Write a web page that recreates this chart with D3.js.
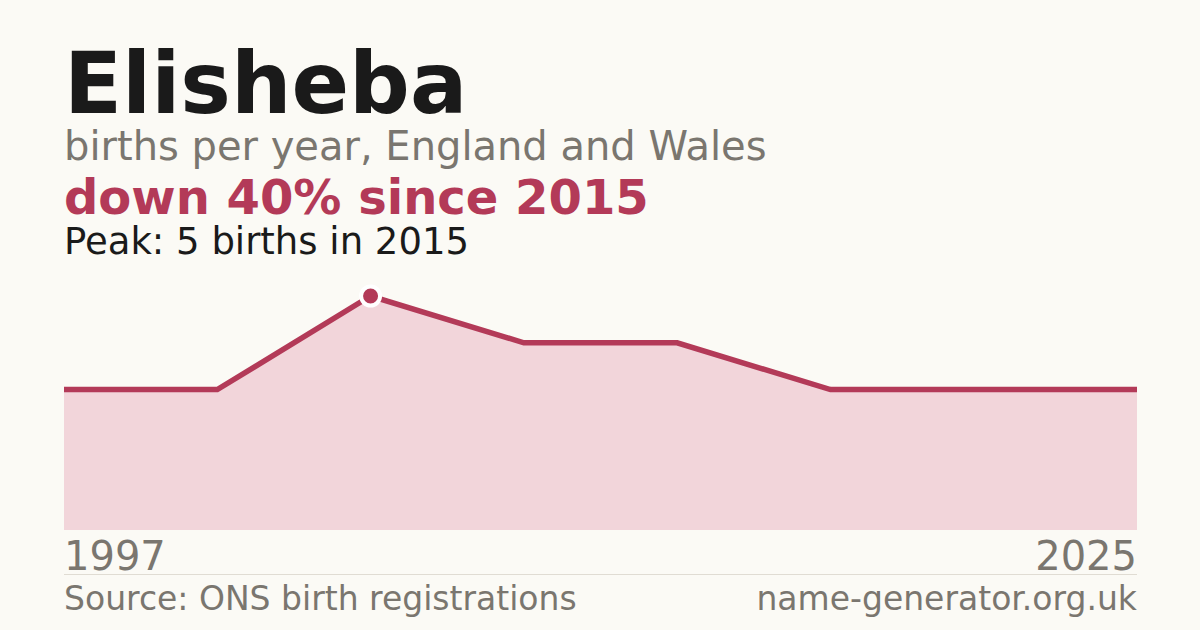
<!DOCTYPE html>
<html>
<head>
<meta charset="utf-8">
<script src="https://cdn.jsdelivr.net/npm/d3@7"></script>
<style>
  html, body { margin: 0; padding: 0; background: #fbfaf5; }
  svg { display: block; font-family: "DejaVu Sans", sans-serif; }
</style>
</head>
<body>
<div id="chart"></div>
<script>
// Data
const YEARS = ['1997', '2011', '2015', '2017', '2019', '2021', '2023', '2025']
const BIRTHS = [3, 3, 5, 4, 4, 3, 3, 3]
const TICK_LABELS = ['1997', '2025']
const PEAK_YEAR = '2015'

// Chart Dimensions
const WIDTH = 1200
const HEIGHT = 630
const LEFT = 64
const RIGHT = 1137
const TOP = 296
const BOTTOM = 530

var svg = d3.select('#chart').append('svg')
    .attr('width', WIDTH)
    .attr('height', HEIGHT);

svg.append('rect').attr('width', WIDTH).attr('height', HEIGHT).attr('fill', '#fbfaf5');

var points = YEARS.map((y, i) => ({ year: y, value: BIRTHS[i] }));

var x = d3.scalePoint().domain(YEARS).range([LEFT, RIGHT]);
var y = d3.scaleLinear().domain([0, d3.max(BIRTHS)]).range([BOTTOM, TOP]);

// Titles
svg.append('text').attr('x', LEFT).attr('y', 113)
    .attr('font-size', 85).attr('font-weight', 'bold').attr('fill', '#1a1a1a')
    .text('Elisheba');
svg.append('text').attr('x', LEFT).attr('y', 160)
    .attr('font-size', 40).attr('fill', '#7a766f')
    .text('births per year, England and Wales');

var peakVal = BIRTHS[YEARS.indexOf(PEAK_YEAR)];
var last = BIRTHS[BIRTHS.length - 1];
var change = Math.round((peakVal - last) / peakVal * 100);
svg.append('text').attr('x', LEFT).attr('y', 214)
    .attr('font-size', 48).attr('font-weight', 'bold').attr('fill', '#b33a58')
    .text('down ' + change + '% since ' + PEAK_YEAR);
svg.append('text').attr('x', LEFT).attr('y', 254)
    .attr('font-size', 37).attr('fill', '#1a1a1a')
    .text('Peak: ' + peakVal + ' births in ' + PEAK_YEAR);

// Area + line
var area = d3.area().x(d => x(d.year)).y0(y(0)).y1(d => y(d.value));
var line = d3.line().x(d => x(d.year)).y(d => y(d.value));

svg.append('path').datum(points)
    .attr('d', area)
    .attr('fill', '#f2d5da');

svg.append('path').datum(points)
    .attr('d', line)
    .attr('fill', 'none')
    .attr('stroke', '#b33a58')
    .attr('stroke-width', 5.5)
    .attr('stroke-linejoin', 'miter');

// Peak marker
svg.append('circle')
    .attr('cx', x(PEAK_YEAR)).attr('cy', y(peakVal))
    .attr('r', 9.5)
    .attr('fill', '#b33a58')
    .attr('stroke', '#ffffff')
    .attr('stroke-width', 4);

// Axis end labels
svg.append('text').attr('x', x(TICK_LABELS[0])).attr('y', 570)
    .attr('font-size', 40).attr('fill', '#7a766f')
    .text(TICK_LABELS[0]);
svg.append('text').attr('x', x(TICK_LABELS[1])).attr('y', 570)
    .attr('font-size', 40).attr('fill', '#7a766f').attr('text-anchor', 'end')
    .text(TICK_LABELS[1]);

// Footer
svg.append('line')
    .attr('x1', LEFT).attr('x2', RIGHT).attr('y1', 574.5).attr('y2', 574.5)
    .attr('stroke', '#e0dcd3').attr('stroke-width', 1);
svg.append('text').attr('x', LEFT).attr('y', 610)
    .attr('font-size', 33).attr('fill', '#7a766f')
    .text('Source: ONS birth registrations');
svg.append('text').attr('x', RIGHT).attr('y', 610)
    .attr('font-size', 33).attr('fill', '#7a766f').attr('text-anchor', 'end')
    .text('name-generator.org.uk');
</script>
</body>
</html>
